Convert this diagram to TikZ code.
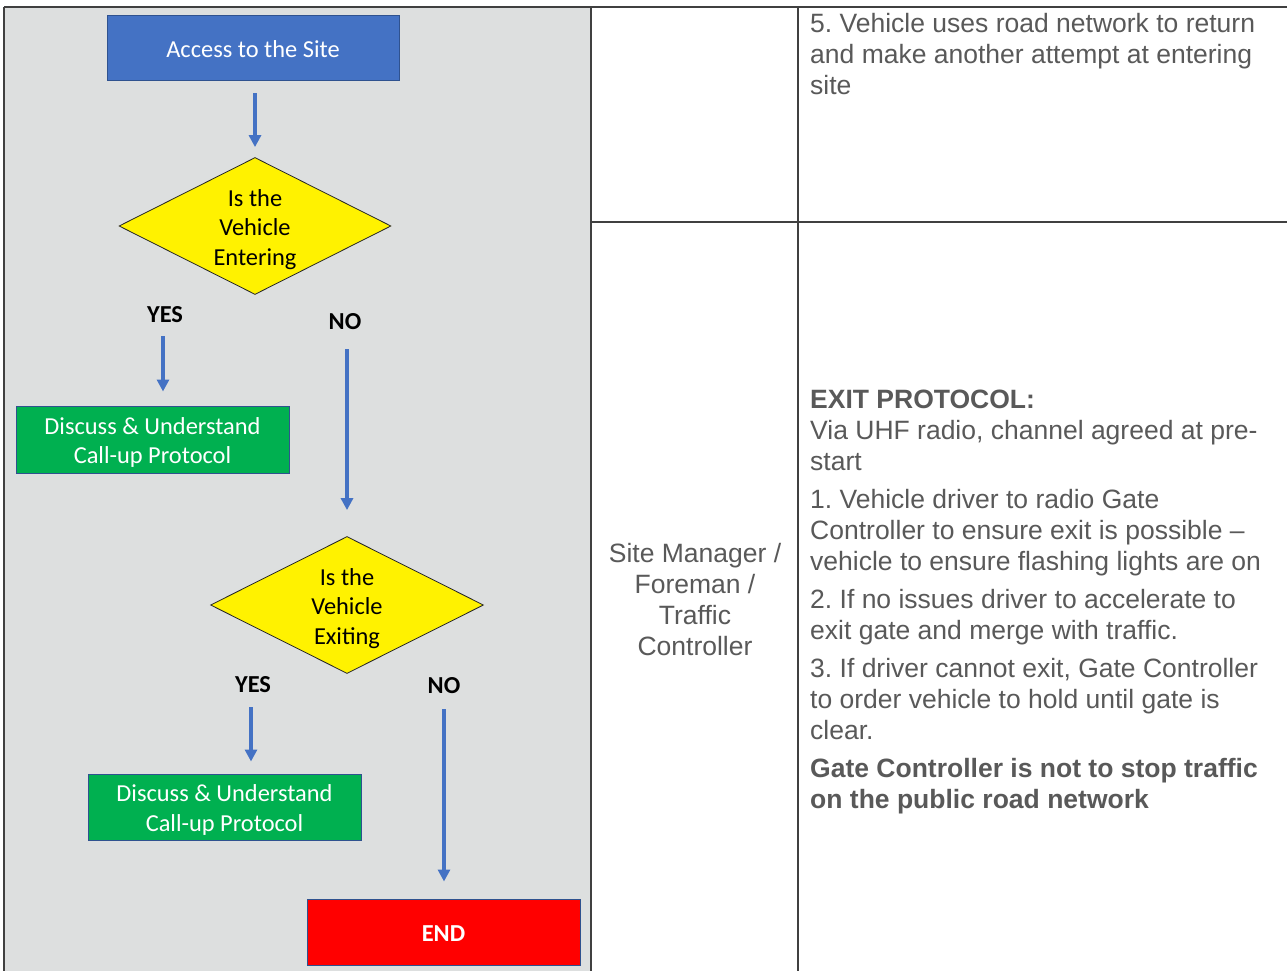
\documentclass[tikz,border=0pt]{standalone}
\usepackage{fontspec}
\setmainfont{Liberation Sans}
\newfontfamily\calibfont{Carlito}
\usetikzlibrary{shapes.geometric,arrows.meta}
\frenchspacing
\definecolor{panelgray}{RGB}{221,223,223}
\definecolor{tablegray}{RGB}{64,64,64}
\definecolor{txtgray}{RGB}{89,89,89}
\definecolor{flowblue}{RGB}{68,114,196}
\definecolor{boxedge}{RGB}{47,82,143}
\definecolor{flowgreen}{RGB}{0,176,80}
\definecolor{flowred}{RGB}{255,0,0}
\tikzset{
  tline/.style={draw=tablegray, line width=2pt},
  flowfont/.style={font=\calibfont\fontsize{24.4}{29.5}\selectfont},
  procbox/.style={draw=boxedge, line width=1pt, inner sep=0pt},
  boxtext/.style={flowfont, text=white, align=center, inner sep=0pt},
  decision/.style={shape=diamond, draw=black!85, line width=0.8pt, fill=yellow, inner sep=0pt},
  dtext/.style={flowfont, text=black, align=center, inner sep=0pt},
  yn/.style={font=\calibfont\bfseries\fontsize{24.4}{29.5}\selectfont, text=black, inner sep=0pt},
  arr/.style={draw=flowblue, line width=3.2pt, -{Triangle[length=12pt,width=12pt]}},
  celltext/.style={font=\fontsize{26.5}{31}\selectfont, text=txtgray, inner sep=0pt},
}
\begin{document}
\begin{tikzpicture}[x=1pt,y=-1pt]
\useasboundingbox (0,0) rectangle (1287,971);
\fill[white] (0,0) rectangle (1287,971);
% gray panel
\fill[panelgray] (4,7) rectangle (591,971);
% table lines
\draw[tline] (4,7) -- (1287,7);
\draw[tline] (4,7) -- (4,971);
\draw[tline] (591,7) -- (591,971);
\draw[tline] (798,7) -- (798,971);
\draw[tline] (591,222) -- (1287,222);

% flowchart
\node[procbox, fill=flowblue, minimum width=292pt, minimum height=65pt] (access) at (253,48.5) {};
\node[boxtext] (accesst) at (253,49.5) {Access to the Site};
\node[decision, minimum width=272pt, minimum height=137pt] (d1) at (255,226) {};
\node[dtext] (d1t) at (255,229.5) {Is the\\Vehicle\\Entering};
\node[yn] (yes1) at (165,315) {YES};
\node[yn] (no1) at (345,322) {NO};
\node[procbox, fill=flowgreen, minimum width=273pt, minimum height=67pt] (g1) at (152.5,439.5) {};
\node[boxtext] (g1t) at (152.5,442.5) {Discuss \& Understand\\Call-up Protocol};
\node[decision, minimum width=273pt, minimum height=137pt] (d2) at (347,605) {};
\node[dtext] (d2t) at (347,608.5) {Is the\\Vehicle\\Exiting};
\node[yn] (yes2) at (253,685) {YES};
\node[yn] (no2) at (444,686) {NO};
\node[procbox, fill=flowgreen, minimum width=273pt, minimum height=66pt] (g2) at (224.5,807) {};
\node[boxtext] (g2t) at (224.5,810) {Discuss \& Understand\\Call-up Protocol};
\node[procbox, fill=flowred, minimum width=273pt, minimum height=66pt] (endbox) at (443.5,932) {};
\node[boxtext, font=\calibfont\bfseries\fontsize{24.4}{29.5}\selectfont] (endt) at (443.5,934) {END};

% arrows
\draw[arr, shorten <=12pt, shorten >=10pt] (access.south -| d1.north) -- (d1.north);
\draw[arr, shorten <=13pt, shorten >=14pt] ([xshift=-2pt]yes1.south) -- ([xshift=-2pt]yes1.south |- g1.north);
\draw[arr, shorten <=19pt, shorten >=26pt] ([xshift=2pt]no1.south) -- ([xshift=2pt]no1.south |- d2.north);
\draw[arr, shorten <=14pt, shorten >=12pt] ([xshift=-2pt]yes2.south) -- ([xshift=-2pt]yes2.south |- g2.north);
\draw[arr, shorten <=15pt, shorten >=17pt] (no2.south) -- (no2.south |- endbox.north);

% right side text
\node[celltext, anchor=north west, align=left] (topcell) at (810,10.3)
  {\strut 5. Vehicle uses road network to return\\and make another attempt at entering\\site};
\node[celltext, anchor=north, align=center] (role) at (695,540.3)
  {\strut Site Manager /\\Foreman /\\Traffic\\Controller};
\node[celltext, anchor=north west, align=left] (exitcell) at (810,386.3)
  {\strut\textbf{EXIT PROTOCOL:}\\Via UHF radio, channel agreed at pre-\\start\\[7pt]
   1. Vehicle driver to radio Gate\\Controller to ensure exit is possible –\\vehicle to ensure flashing lights are on\\[7pt]
   2. If no issues driver to accelerate to\\exit gate and merge with traffic.\\[7pt]
   3. If driver cannot exit, Gate Controller\\to order vehicle to hold until gate is\\clear.\\[7pt]
   \textbf{Gate Controller is not to stop traffic}\\\textbf{on the public road network}};
\end{tikzpicture}
\end{document}
